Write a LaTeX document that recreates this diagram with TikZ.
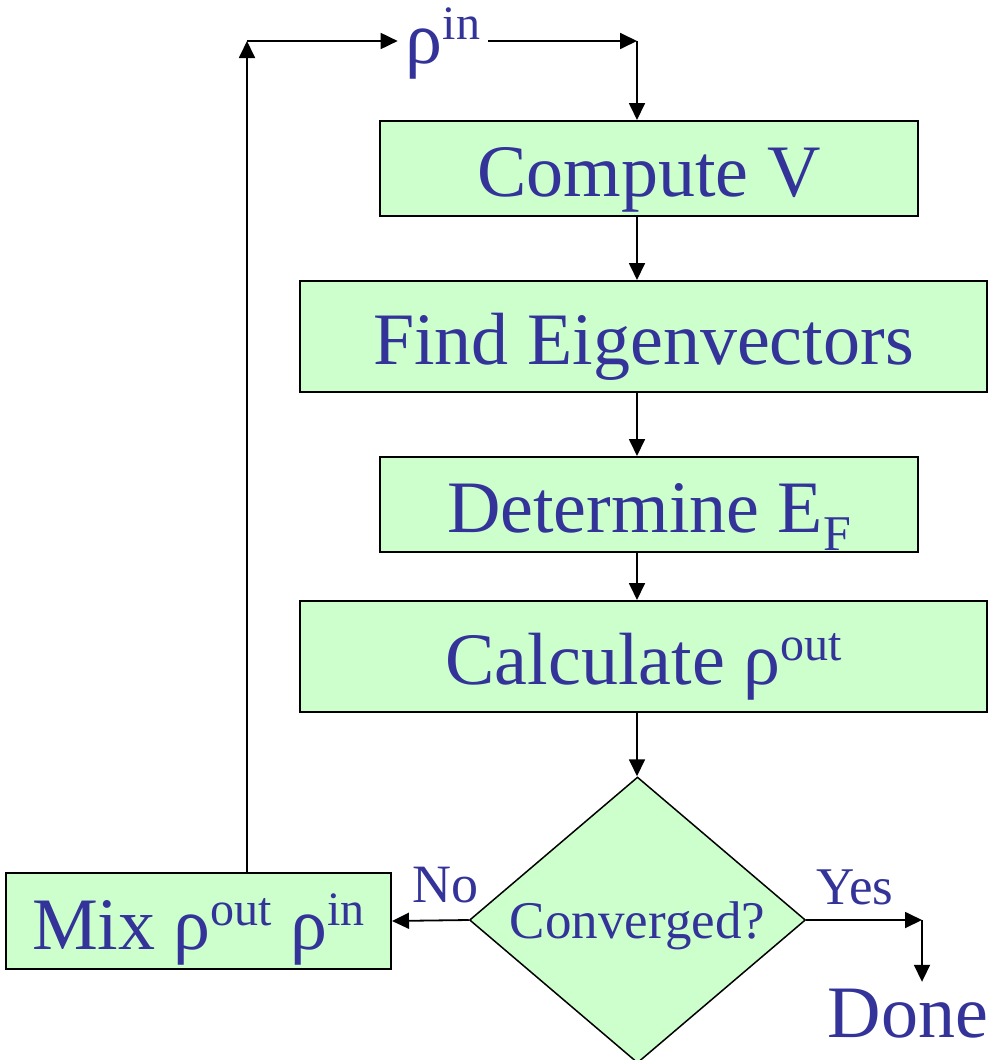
\documentclass[tikz,border=0pt]{standalone}
\usepackage{fontspec}
\setmainfont{Liberation Serif}
\usetikzlibrary{shapes.geometric,arrows.meta,calc}
\definecolor{boxfill}{HTML}{CCFFCC}
\definecolor{txtblue}{HTML}{333399}
\newcommand\supx[1]{\raisebox{24pt}{\fontsize{48}{48}\selectfont #1}}
\newcommand\subx[1]{\raisebox{-18pt}{\fontsize{50}{50}\selectfont #1}}
\begin{document}
\begin{tikzpicture}[x=1pt,y=-1pt,
  stepbox/.style={draw=black, line width=2pt, fill=boxfill, text=txtblue, inner sep=0pt,
    text height=56pt, text depth=0pt, font=\fontsize{74}{80}\selectfont},
  decbox/.style={draw=black, line width=1.5pt, fill=boxfill, shape=diamond, aspect=1.175,
    inner sep=0pt, text=txtblue, text height=36pt, text depth=0pt, font=\fontsize{53}{60}\selectfont},
  arr/.style={line width=1.8pt, -{Triangle[length=17pt,width=16pt]}},
  lbl/.style={text=txtblue, inner sep=0pt, font=\fontsize{53}{60}\selectfont},
  big/.style={font=\fontsize{74}{80}\selectfont}]
\useasboundingbox (0,0) rectangle (988,1060);
% boxes
\node[stepbox, minimum width=538pt, minimum height=95pt] (cv) at (649,168.5) {Compute V};
\node[stepbox, minimum width=687pt, minimum height=111pt] (fe) at (643.5,336.5) {Find Eigenvectors};
\node[stepbox, minimum width=538pt, minimum height=95pt] (df) at (649,504.5) {Determine E\subx{F}};
\node[stepbox, minimum width=687pt, minimum height=111pt] (cr) at (643.5,656.5) {Calculate ρ\supx{out}};
\node[decbox, minimum width=336pt, minimum height=286pt] (dec) at (637.5,920) {Converged?};
\node[stepbox, minimum width=385pt, minimum height=96pt] (mix) at (198.5,921) {Mix ρ\supx{out} ρ\supx{in}};
\node[lbl, big, inner xsep=8pt, anchor=base] (rhoin) at (443,63) {ρ\supx{in}};
\node[lbl, big, anchor=base, text height=55pt, text depth=0pt] (done) at (908,1037) {Done};
% main column
\coordinate (col) at (637,0);
\draw[arr] (cv.south -| col) -- (fe.north -| col);
\draw[arr] (fe.south -| col) -- (df.north -| col);
\draw[arr] (df.south -| col) -- (cr.north -| col);
\draw[arr] (cr.south -| col) -- (dec.north -| col);
% no branch
\draw[arr] (dec.west) -- node[lbl, pos=0.3, anchor=base, yshift=18pt, font=\fontsize{54}{60}\selectfont] (no) {No} (mix.east);
% yes branch
\coordinate (yc) at (922,920);
\draw[arr] (dec.east) -- node[lbl, pos=0.42, anchor=base, yshift=16pt] (yes) {Yes} (yc);
\draw[arr] (yc) -- (done.north -| yc);
% loop back
\coordinate (lt) at (247,41);
\coordinate (rt) at (637,41);
\draw[arr] (mix.north -| lt) -- (lt);
\draw[arr] (lt) -- (lt -| rhoin.west);
\draw[arr] (rhoin.east |- rt) -- (rt);
\draw[arr] (rt) -- (cv.north -| rt);
\end{tikzpicture}
\end{document}
